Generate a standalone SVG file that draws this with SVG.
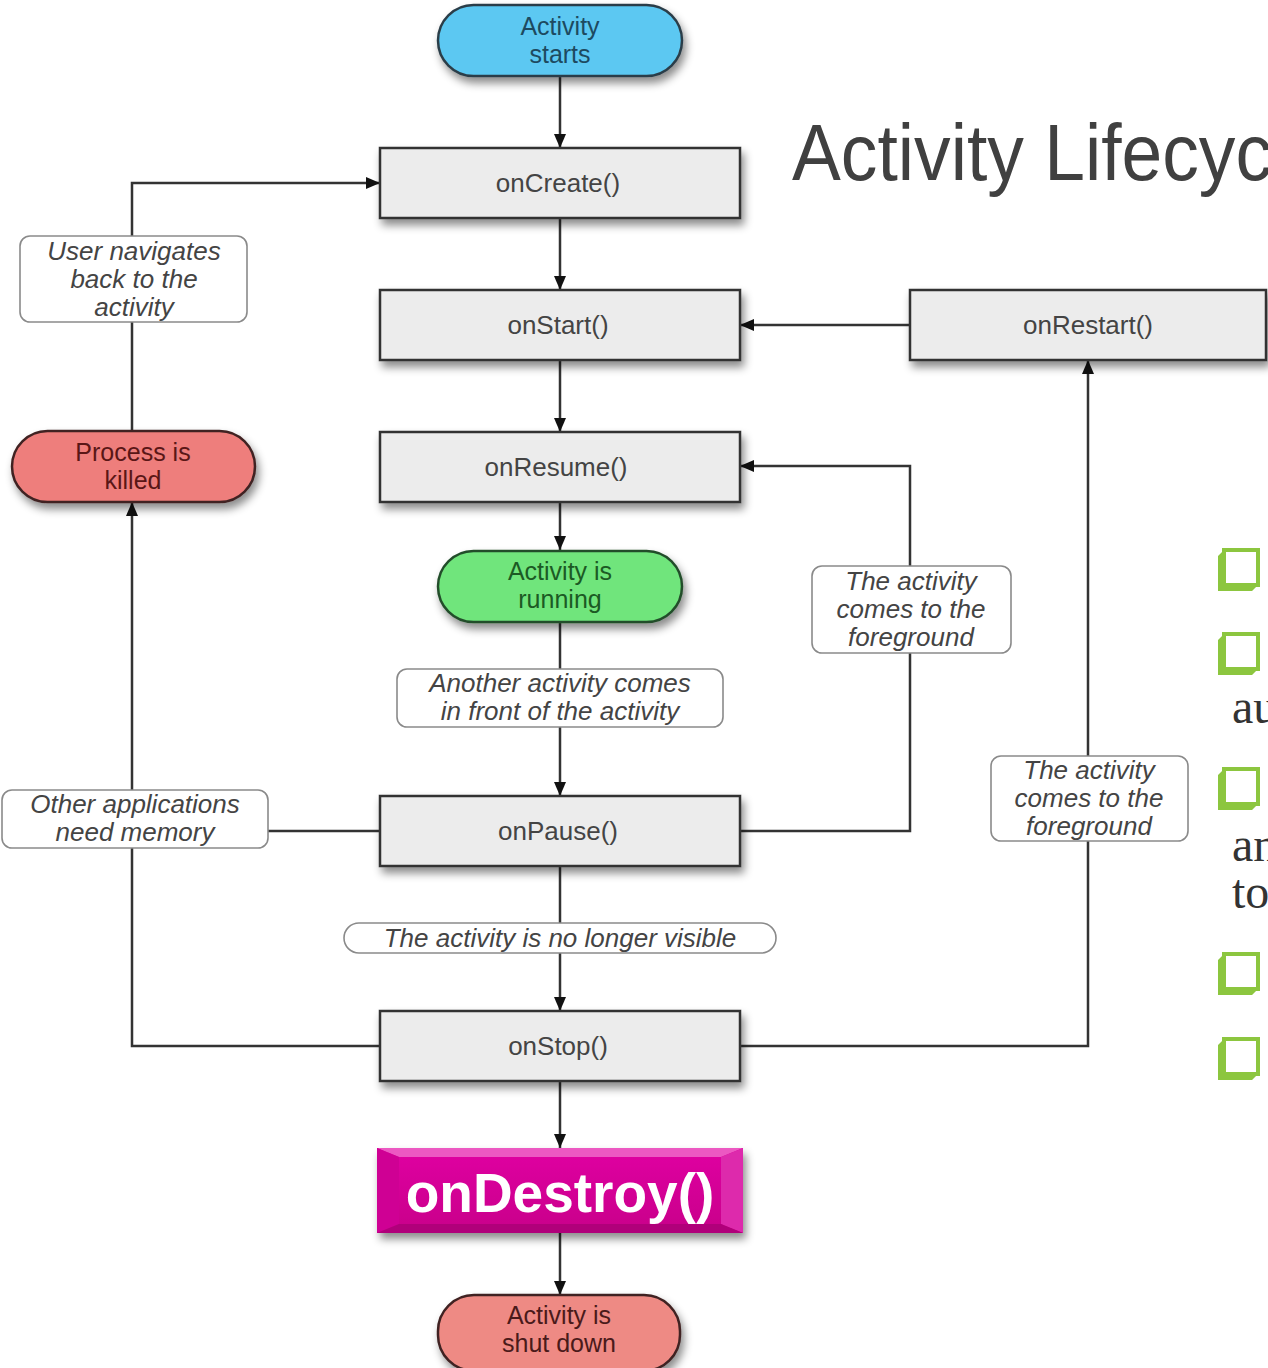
<svg xmlns="http://www.w3.org/2000/svg" width="1268" height="1368" viewBox="0 0 1268 1368">
  <style>
    .box { fill: #ececec; stroke: #333; stroke-width: 2.5; }
    .boxtxt { font-family: "Liberation Sans", Arial, sans-serif; font-size: 26px; fill: #444; text-anchor: middle; }
    .pilltxt { font-family: "Liberation Sans", Arial, sans-serif; font-size: 25px; text-anchor: middle; }
    .lbl { fill: #fff; stroke: #8a8a8a; stroke-width: 1.6; }
    .lbltxt { font-family: "Liberation Sans", Arial, sans-serif; font-size: 26px; font-style: italic; fill: #444; text-anchor: middle; }
    .conn { fill: none; stroke: #333; stroke-width: 2.5; }
    .bullet { fill: #fff; stroke: #8cc63f; stroke-width: 4; }
    .bshade { fill: #8cc63f; }
    .side { font-family: "Liberation Serif", "Times New Roman", serif; font-size: 48px; fill: #333; }
  </style>
  <defs>
    <filter id="shadow" x="-10%" y="-20%" width="125%" height="160%">
      <feDropShadow dx="3" dy="6" stdDeviation="4" flood-color="#000" flood-opacity="0.45"/>
    </filter>
    <marker id="arrow" viewBox="0 0 14 12" refX="14" refY="6" markerWidth="14" markerHeight="12" markerUnits="userSpaceOnUse" orient="auto">
      <path d="M0,0 L14,6 L0,12 z" fill="#111"/>
    </marker>
    <linearGradient id="mag" x1="0" y1="0" x2="0" y2="1">
      <stop offset="0" stop-color="#e000a2"/>
      <stop offset="1" stop-color="#c8008a"/>
    </linearGradient>
  </defs>

  <rect width="1268" height="1368" fill="#fff"/>

  <!-- title, running off the right edge -->
  <text x="792" y="180" font-family="Liberation Sans, Arial, sans-serif" font-size="79" textLength="480" lengthAdjust="spacingAndGlyphs" fill="#404040">Activity Lifecyc</text>

  <!-- side bullets, cut by the right edge -->
  <g id="bullets">
    <path class="bshade" d="M1218,556 L1224,550 L1224,585 L1258,585 L1252,591 L1218,591 Z"/>
    <rect class="bullet" x="1224" y="550" width="34" height="35"/>
    <path class="bshade" d="M1218,640 L1224,634 L1224,669 L1258,669 L1252,675 L1218,675 Z"/>
    <rect class="bullet" x="1224" y="634" width="34" height="35"/>
    <path class="bshade" d="M1218,775 L1224,769 L1224,804 L1258,804 L1252,810 L1218,810 Z"/>
    <rect class="bullet" x="1224" y="769" width="34" height="35"/>
    <path class="bshade" d="M1218,960 L1224,954 L1224,989 L1258,989 L1252,995 L1218,995 Z"/>
    <rect class="bullet" x="1224" y="954" width="34" height="35"/>
    <path class="bshade" d="M1218,1045 L1224,1039 L1224,1074 L1258,1074 L1252,1080 L1218,1080 Z"/>
    <rect class="bullet" x="1224" y="1039" width="34" height="35"/>
    <text class="side" x="1232" y="723">au</text>
    <text class="side" x="1232" y="861">an</text>
    <text class="side" x="1232" y="908">to</text>
  </g>

  <!-- connectors -->
  <g id="connectors">
    <path class="conn" d="M560,76 V148" marker-end="url(#arrow)"/>
    <path class="conn" d="M560,218 V290" marker-end="url(#arrow)"/>
    <path class="conn" d="M560,360 V432" marker-end="url(#arrow)"/>
    <path class="conn" d="M560,502 V550" marker-end="url(#arrow)"/>
    <path class="conn" d="M560,622 V796" marker-end="url(#arrow)"/>
    <path class="conn" d="M560,866 V1011" marker-end="url(#arrow)"/>
    <path class="conn" d="M560,1081 V1148" marker-end="url(#arrow)"/>
    <path class="conn" d="M560,1233 V1295" marker-end="url(#arrow)"/>
    <path class="conn" d="M910,325 H740" marker-end="url(#arrow)"/>
    <path class="conn" d="M740,831 H910 V466 H740" marker-end="url(#arrow)"/>
    <path class="conn" d="M740,1046 H1088 V360" marker-end="url(#arrow)"/>
    <path class="conn" d="M380,1046 H132 V502" marker-end="url(#arrow)"/>
    <path class="conn" d="M380,831 H132"/>
    <path class="conn" d="M132,431 V183 H380" marker-end="url(#arrow)"/>
  </g>

  <!-- start / end states -->
  <g id="activity-starts">
    <rect x="438" y="5" width="244" height="71" rx="35.5" fill="#5cc8f2" stroke="#2c3e48" stroke-width="2.5" filter="url(#shadow)"/>
    <text class="pilltxt" x="560" y="35" fill="#1d4a60">Activity</text>
    <text class="pilltxt" x="560" y="63" fill="#1d4a60">starts</text>
  </g>
  <g id="activity-running">
    <rect x="438" y="551" width="244" height="71" rx="35.5" fill="#6fe57c" stroke="#234d2a" stroke-width="2.5" filter="url(#shadow)"/>
    <text class="pilltxt" x="560" y="580" fill="#1c5a24">Activity is</text>
    <text class="pilltxt" x="560" y="608" fill="#1c5a24">running</text>
  </g>
  <g id="process-killed">
    <rect x="12" y="431" width="243" height="71" rx="35.5" fill="#ee7e7b" stroke="#3f2222" stroke-width="2.5" filter="url(#shadow)"/>
    <text class="pilltxt" x="133" y="461" fill="#5a1616">Process is</text>
    <text class="pilltxt" x="133" y="489" fill="#5a1616">killed</text>
  </g>
  <g id="activity-shut-down">
    <rect x="438" y="1295" width="242" height="76" rx="36" fill="#ee8a84" stroke="#3f2222" stroke-width="2.5" filter="url(#shadow)"/>
    <text class="pilltxt" x="559" y="1324" fill="#4a1a1a">Activity is</text>
    <text class="pilltxt" x="559" y="1352" fill="#4a1a1a">shut down</text>
  </g>

  <!-- lifecycle callbacks -->
  <g id="onCreate">
    <rect class="box" x="380" y="148" width="360" height="70" filter="url(#shadow)"/>
    <text class="boxtxt" x="558" y="192">onCreate()</text>
  </g>
  <g id="onStart">
    <rect class="box" x="380" y="290" width="360" height="70" filter="url(#shadow)"/>
    <text class="boxtxt" x="558" y="334">onStart()</text>
  </g>
  <g id="onRestart">
    <rect class="box" x="910" y="290" width="356" height="70" filter="url(#shadow)"/>
    <text class="boxtxt" x="1088" y="334">onRestart()</text>
  </g>
  <g id="onResume">
    <rect class="box" x="380" y="432" width="360" height="70" filter="url(#shadow)"/>
    <text class="boxtxt" x="556" y="476">onResume()</text>
  </g>
  <g id="onPause">
    <rect class="box" x="380" y="796" width="360" height="70" filter="url(#shadow)"/>
    <text class="boxtxt" x="558" y="840">onPause()</text>
  </g>
  <g id="onStop">
    <rect class="box" x="380" y="1011" width="360" height="70" filter="url(#shadow)"/>
    <text class="boxtxt" x="558" y="1055">onStop()</text>
  </g>
  <g id="onDestroy" filter="url(#shadow)">
    <rect x="377" y="1148" width="366" height="85" fill="url(#mag)"/>
    <path d="M377,1148 H743 L721,1157 H399 Z" fill="#ec58c2"/>
    <path d="M377,1148 L399,1157 V1224 L377,1233 Z" fill="#cf0094"/>
    <path d="M743,1148 L721,1157 V1224 L743,1233 Z" fill="#dd2aac"/>
    <path d="M377,1233 L399,1224 H721 L743,1233 Z" fill="#b0007a"/>
    <text x="560" y="1212" font-family="Liberation Sans, Arial, sans-serif" font-size="55" font-weight="bold" fill="#fff" text-anchor="middle">onDestroy()</text>
  </g>

  <!-- transition labels -->
  <g id="label-user-navigates">
    <rect class="lbl" x="20" y="236" width="227" height="86" rx="10"/>
    <text class="lbltxt" x="134" y="260">User navigates</text>
    <text class="lbltxt" x="134" y="288">back to the</text>
    <text class="lbltxt" x="134" y="316">activity</text>
  </g>
  <g id="label-other-apps">
    <rect class="lbl" x="2" y="790" width="266" height="58" rx="10"/>
    <text class="lbltxt" x="135" y="813">Other applications</text>
    <text class="lbltxt" x="135" y="841">need memory</text>
  </g>
  <g id="label-another-activity">
    <rect class="lbl" x="397" y="669" width="326" height="58" rx="10"/>
    <text class="lbltxt" x="560" y="692">Another activity comes</text>
    <text class="lbltxt" x="560" y="720">in front of the activity</text>
  </g>
  <g id="label-foreground-resume">
    <rect class="lbl" x="812" y="566" width="199" height="87" rx="10"/>
    <text class="lbltxt" x="911" y="590">The activity</text>
    <text class="lbltxt" x="911" y="618">comes to the</text>
    <text class="lbltxt" x="911" y="646">foreground</text>
  </g>
  <g id="label-foreground-restart">
    <rect class="lbl" x="991" y="756" width="197" height="85" rx="10"/>
    <text class="lbltxt" x="1089" y="779">The activity</text>
    <text class="lbltxt" x="1089" y="807">comes to the</text>
    <text class="lbltxt" x="1089" y="835">foreground</text>
  </g>
  <g id="label-no-longer-visible">
    <rect class="lbl" x="344" y="923" width="432" height="30" rx="15"/>
    <text class="lbltxt" x="560" y="947">The activity is no longer visible</text>
  </g>
</svg>
